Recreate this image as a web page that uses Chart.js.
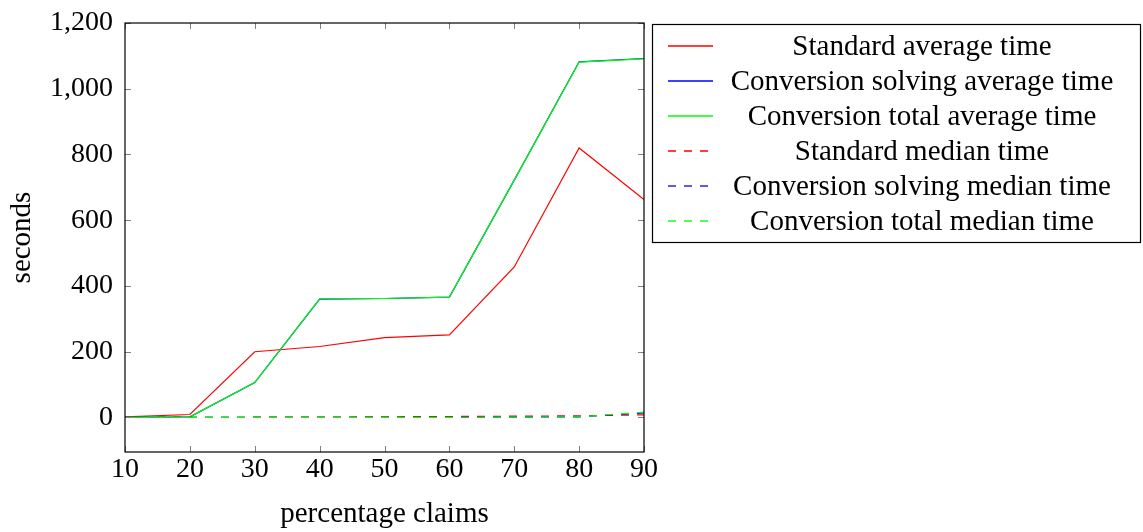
<!DOCTYPE html>
<html lang="en">
<head>
    <meta charset="UTF-8">
    <title>Average and median time</title>
    <script src="https://cdn.jsdelivr.net/npm/chart.js@4.4.0/dist/chart.umd.min.js"></script>
    <style>
        body {
            margin: 0;
            background: white;
        }
        .wrap {
            width: 1143px;
            height: 532px;
        }
    </style>
</head>
<body>
    <div class="wrap">
        <canvas id="timeChart" width="1143" height="532"></canvas>
    </div>

    <script>
        // data
        const claims = [10, 20, 30, 40, 50, 60, 70, 80, 90];
        const standardAvg = [2, 9, 200, 216, 243, 251, 458, 820, 663];
        const solvingAvg = [0.5, 2, 106, 360, 362, 366, 722, 1082, 1092];
        const totalAvg = [0.5, 2, 106, 361, 362, 366, 722, 1081, 1091];
        const standardMed = [0.3, 0.5, 0.8, 1, 2, 3, 4, 5, 8];
        const solvingMed = [0.1, 0.2, 0.3, 0.3, 0.4, 0.5, 1, 2, 14];
        const totalMed = [0.2, 0.3, 0.4, 0.4, 0.5, 0.6, 1, 2, 16];
        const yTicks = [0, 200, 400, 600, 800, 1000, 1200];

        const FONT = '"Liberation Serif", "DejaVu Serif", serif';

        function pts(arr) {
            return arr.map((v, i) => ({ x: claims[i], y: v }));
        }

        const series = [
            { label: 'Standard average time', data: standardAvg, color: '#ff0000', dash: [] },
            { label: 'Conversion solving average time', data: solvingAvg, color: '#0000ff', dash: [] },
            { label: 'Conversion total average time', data: totalAvg, color: '#00ff00', dash: [] },
            { label: 'Standard median time', data: standardMed, color: '#ff0000', dash: [8, 8] },
            { label: 'Conversion solving median time', data: solvingMed, color: '#0000ff', dash: [8, 8] },
            { label: 'Conversion total median time', data: totalMed, color: '#00ff00', dash: [8, 8] }
        ];

        // frame, inner tick marks and the boxed legend (pgfplots look)
        const framePlugin = {
            id: 'frame',
            afterDraw(chart) {
                const ctx = chart.ctx;
                const a = chart.chartArea;
                const xs = chart.scales.x, ys = chart.scales.y;
                ctx.save();
                ctx.strokeStyle = '#808080';
                ctx.lineWidth = 1;
                ctx.beginPath();
                xs.ticks.forEach(t => {
                    const px = Math.round(xs.getPixelForValue(t.value)) + 0.5;
                    ctx.moveTo(px, a.bottom); ctx.lineTo(px, a.bottom - 6);
                    ctx.moveTo(px, a.top); ctx.lineTo(px, a.top + 6);
                });
                ys.ticks.forEach(t => {
                    const py = Math.round(ys.getPixelForValue(t.value)) + 0.5;
                    ctx.moveTo(a.left, py); ctx.lineTo(a.left + 6, py);
                    ctx.moveTo(a.right, py); ctx.lineTo(a.right - 6, py);
                });
                ctx.stroke();
                ctx.strokeStyle = '#000';
                ctx.lineWidth = 1.2;
                ctx.strokeRect(a.left, a.top, a.right - a.left, a.bottom - a.top);

                // legend
                const lx = 652, ly = 24, lw = 488, rowH = 35;
                const lh = rowH * series.length + 8;
                ctx.lineWidth = 1.2;
                ctx.strokeRect(lx + 0.5, ly + 0.5, lw, lh);
                ctx.font = '29px ' + FONT;
                ctx.fillStyle = '#000';
                ctx.textAlign = 'center';
                ctx.textBaseline = 'middle';
                chart.data.datasets.forEach((ds, i) => {
                    const cy = ly + 22 + i * rowH;
                    ctx.strokeStyle = ds.borderColor;
                    ctx.lineWidth = 1.3;
                    ctx.setLineDash(ds.borderDash || []);
                    ctx.beginPath();
                    ctx.moveTo(668, cy);
                    ctx.lineTo(713, cy);
                    ctx.stroke();
                    ctx.setLineDash([]);
                    ctx.fillText(ds.label, 922, cy + 1);
                });
                ctx.restore();
            }
        };

        new Chart(document.getElementById('timeChart'), {
            type: 'line',
            data: {
                datasets: series.map((s, i) => ({
                    label: s.label,
                    data: pts(s.data),
                    borderColor: s.color,
                    backgroundColor: s.color,
                    borderDash: s.dash,
                    borderWidth: 1.2,
                    pointRadius: 0,
                    fill: false,
                    tension: 0,
                    order: series.length - i
                }))
            },
            options: {
                responsive: false,
                animation: false,
                layout: {
                    padding: { left: 0, top: 23, right: 499, bottom: 0 }
                },
                plugins: {
                    legend: { display: false },
                    tooltip: { enabled: false }
                },
                scales: {
                    x: {
                        type: 'linear',
                        min: 10,
                        max: 90,
                        grid: { display: false, drawTicks: false },
                        border: { display: false },
                        ticks: {
                            stepSize: 10,
                            padding: 1,
                            color: '#000',
                            font: { family: FONT, size: 28 }
                        },
                        title: {
                            display: true,
                            text: 'percentage claims',
                            color: '#000',
                            padding: { top: 4, bottom: 0 },
                            font: { family: FONT, size: 29 }
                        },
                        afterFit(scale) {
                            scale.height = 80;
                            scale.paddingLeft = 0;
                            scale.paddingRight = 0;
                        }
                    },
                    y: {
                        min: -105,
                        max: 1200,
                        grid: { display: false, drawTicks: false },
                        border: { display: false },
                        afterBuildTicks(scale) {
                            scale.ticks = yTicks.map(v => ({ value: v }));
                        },
                        ticks: {
                            padding: 12,
                            color: '#000',
                            font: { family: FONT, size: 28 }
                        },
                        title: {
                            display: true,
                            text: 'seconds',
                            color: '#000',
                            padding: { top: 5, bottom: 0 },
                            font: { family: FONT, size: 29 }
                        },
                        afterFit(scale) {
                            scale.width = 125;
                            scale.paddingTop = 0;
                            scale.paddingBottom = 0;
                        }
                    }
                }
            },
            plugins: [framePlugin]
        });
    </script>
</body>
</html>
